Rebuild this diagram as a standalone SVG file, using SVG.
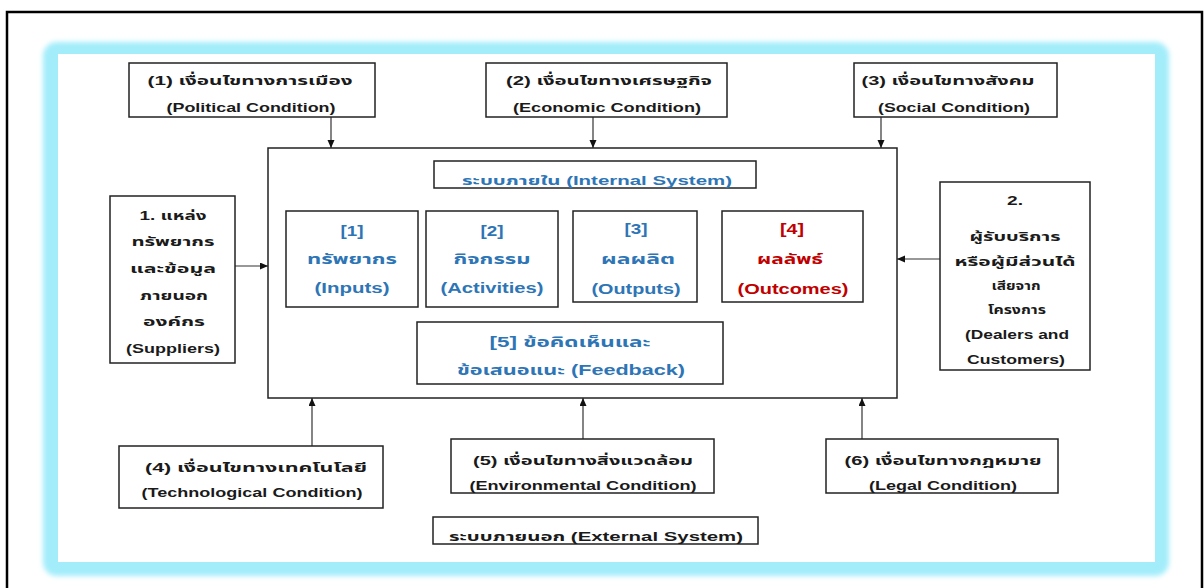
<svg xmlns="http://www.w3.org/2000/svg" width="1204" height="588" viewBox="0 0 1204 588">
<style>
.box{fill:#fff;stroke:#222;stroke-width:1.5}
.t{font-family:"Liberation Sans","Noto Sans Thai","Noto Sans Thai UI",Tahoma,Loma,Garuda,"Noto Sans",sans-serif;font-weight:bold;font-size:13px;fill:#1a1a1a;text-anchor:middle}
.m{font-size:14.5px}
.b{fill:#2E75B6}
.r{fill:#C00000}
.c{fill:none;stroke:#333;stroke-width:1.2;marker-end:url(#ah)}
</style>
<defs>
<marker id="ah" markerUnits="userSpaceOnUse" markerWidth="8" markerHeight="8" refX="8" refY="3.5" orient="auto">
<path d="M0,0 L8,3.5 L0,7 z" fill="#111"/>
</marker>
<filter id="glow" x="-5%" y="-5%" width="110%" height="110%">
<feGaussianBlur stdDeviation="2.5"/>
</filter>
</defs>
<rect width="1204" height="588" fill="#fff"/>
<path d="M7,588 V12 H1202 V588" fill="none" stroke="#000" stroke-width="2.5"/>
<rect x="43" y="42" width="1126" height="534" rx="14" fill="#A3EDFB" filter="url(#glow)"/>
<rect x="58" y="54" width="1097" height="508" fill="#fff"/>

<g id="connectors">
<path class="c" d="M331,117 V148"/>
<path class="c" d="M593,117 V148"/>
<path class="c" d="M881,117 V148"/>
<path class="c" d="M235,266 H268"/>
<path class="c" d="M940,259 H897"/>
<path class="c" d="M312,446 V398"/>
<path class="c" d="M583,439 V398"/>
<path class="c" d="M862,439 V398"/>
<path class="c" d="M408,258 H426"/>
<path class="c" d="M558,258 H573"/>
<path class="c" d="M707,258 H722"/>
<path class="c" d="M417,349 H347 V307"/>
<path class="c" d="M505,322 V307"/>
<path class="c" d="M636,322 V302"/>
<path class="c" d="M723,349 H793 V302"/>
</g>

<g id="internal-system">
<rect class="box" x="268" y="148" width="629" height="250" fill="none"/>
</g>

<g id="political">
<rect class="box" x="129" y="63" width="246" height="54"/>
<text class="t" x="250" y="85" textLength="205" lengthAdjust="spacingAndGlyphs">(1) เงื่อนไขทางการเมือง</text>
<text class="t" x="251" y="112" textLength="169" lengthAdjust="spacingAndGlyphs">(Political Condition)</text>
</g>
<g id="economic">
<rect class="box" x="486" y="63" width="241" height="54"/>
<text class="t" x="609" y="85" textLength="206" lengthAdjust="spacingAndGlyphs">(2) เงื่อนไขทางเศรษฐกิจ</text>
<text class="t" x="607" y="112" textLength="188" lengthAdjust="spacingAndGlyphs">(Economic Condition)</text>
</g>
<g id="social">
<rect class="box" x="854" y="63" width="203" height="54"/>
<text class="t" x="948" y="85" textLength="173" lengthAdjust="spacingAndGlyphs">(3)  เงื่อนไขทางสังคม</text>
<text class="t" x="954" y="112" textLength="152" lengthAdjust="spacingAndGlyphs">(Social Condition)</text>
</g>

<g id="internal-label">
<rect class="box" x="434" y="161" width="322" height="27"/>
<text class="t b" x="597" y="185" font-size="14" textLength="270" lengthAdjust="spacingAndGlyphs">ระบบภายใน (Internal System)</text>
</g>

<g id="inputs">
<rect class="box" x="286" y="211" width="132" height="96"/>
<text class="t m b" x="352" y="236" textLength="23" lengthAdjust="spacingAndGlyphs">[1]</text>
<text class="t m b" x="352" y="264" textLength="90" lengthAdjust="spacingAndGlyphs">ทรัพยากร</text>
<text class="t m b" x="352" y="293" textLength="75" lengthAdjust="spacingAndGlyphs">(Inputs)</text>
</g>
<g id="activities">
<rect class="box" x="426" y="211" width="132" height="96"/>
<text class="t m b" x="492" y="236" textLength="23" lengthAdjust="spacingAndGlyphs">[2]</text>
<text class="t m b" x="492" y="264" textLength="77" lengthAdjust="spacingAndGlyphs">กิจกรรม</text>
<text class="t m b" x="492" y="293" textLength="103" lengthAdjust="spacingAndGlyphs">(Activities)</text>
</g>
<g id="outputs">
<rect class="box" x="573" y="211" width="124" height="91"/>
<text class="t m b" x="636" y="234" textLength="23" lengthAdjust="spacingAndGlyphs">[3]</text>
<text class="t m b" x="638" y="264" textLength="74" lengthAdjust="spacingAndGlyphs">ผลผลิต</text>
<text class="t m b" x="636" y="294" textLength="89" lengthAdjust="spacingAndGlyphs">(Outputs)</text>
</g>
<g id="outcomes">
<rect class="box" x="722" y="211" width="141" height="91"/>
<text class="t m r" x="792" y="234" textLength="24" lengthAdjust="spacingAndGlyphs">[4]</text>
<text class="t m r" x="790" y="264" textLength="66" lengthAdjust="spacingAndGlyphs">ผลลัพธ์</text>
<text class="t m r" x="793" y="294" textLength="111" lengthAdjust="spacingAndGlyphs">(Outcomes)</text>
</g>
<g id="feedback">
<rect class="box" x="417" y="322" width="306" height="62"/>
<text class="t m b" x="570" y="347" textLength="161" lengthAdjust="spacingAndGlyphs">[5] ข้อคิดเห็นและ</text>
<text class="t m b" x="571" y="375" textLength="228" lengthAdjust="spacingAndGlyphs">ข้อเสนอแนะ (Feedback)</text>
</g>

<g id="suppliers">
<rect class="box" x="110" y="196" width="125" height="167"/>
<text class="t" x="173" y="220" textLength="67" lengthAdjust="spacingAndGlyphs">1. แหล่ง</text>
<text class="t" x="173" y="246" textLength="83" lengthAdjust="spacingAndGlyphs">ทรัพยากร</text>
<text class="t" x="173" y="273" textLength="86" lengthAdjust="spacingAndGlyphs">และข้อมูล</text>
<text class="t" x="174" y="300" textLength="68" lengthAdjust="spacingAndGlyphs">ภายนอก</text>
<text class="t" x="174" y="326" textLength="62" lengthAdjust="spacingAndGlyphs">องค์กร</text>
<text class="t" x="173" y="353" textLength="94" lengthAdjust="spacingAndGlyphs">(Suppliers)</text>
</g>

<g id="dealers">
<rect class="box" x="940" y="182" width="150" height="188"/>
<text class="t" x="1015" y="205" textLength="16" lengthAdjust="spacingAndGlyphs">2.</text>
<text class="t" x="1015" y="241" textLength="91" lengthAdjust="spacingAndGlyphs">ผู้รับบริการ</text>
<text class="t" x="1015" y="266" textLength="121" lengthAdjust="spacingAndGlyphs">หรือผู้มีส่วนได้</text>
<text class="t" x="1016" y="290" textLength="49" lengthAdjust="spacingAndGlyphs">เสียจาก</text>
<text class="t" x="1017" y="314" textLength="58" lengthAdjust="spacingAndGlyphs">โครงการ</text>
<text class="t" x="1017" y="339" textLength="104" lengthAdjust="spacingAndGlyphs">(Dealers and</text>
<text class="t" x="1016" y="364" textLength="98" lengthAdjust="spacingAndGlyphs">Customers)</text>
</g>

<g id="technological">
<rect class="box" x="119" y="446" width="264" height="62"/>
<text class="t" x="256" y="472" textLength="222" lengthAdjust="spacingAndGlyphs">(4) เงื่อนไขทางเทคโนโลยี</text>
<text class="t" x="252" y="497" textLength="221" lengthAdjust="spacingAndGlyphs">(Technological Condition)</text>
</g>
<g id="environmental">
<rect class="box" x="451" y="439" width="263" height="54"/>
<text class="t" x="583" y="465" textLength="220" lengthAdjust="spacingAndGlyphs">(5) เงื่อนไขทางสิ่งแวดล้อม</text>
<text class="t" x="583" y="490" textLength="227" lengthAdjust="spacingAndGlyphs">(Environmental Condition)</text>
</g>
<g id="legal">
<rect class="box" x="826" y="439" width="232" height="54"/>
<text class="t" x="943" y="465" textLength="197" lengthAdjust="spacingAndGlyphs">(6) เงื่อนไขทางกฎหมาย</text>
<text class="t" x="943" y="490" textLength="148" lengthAdjust="spacingAndGlyphs">(Legal Condition)</text>
</g>

<g id="external-label">
<rect class="box" x="433" y="517" width="325" height="27"/>
<text class="t" x="596" y="541" font-size="14" textLength="294" lengthAdjust="spacingAndGlyphs">ระบบภายนอก (External System)</text>
</g>
</svg>
